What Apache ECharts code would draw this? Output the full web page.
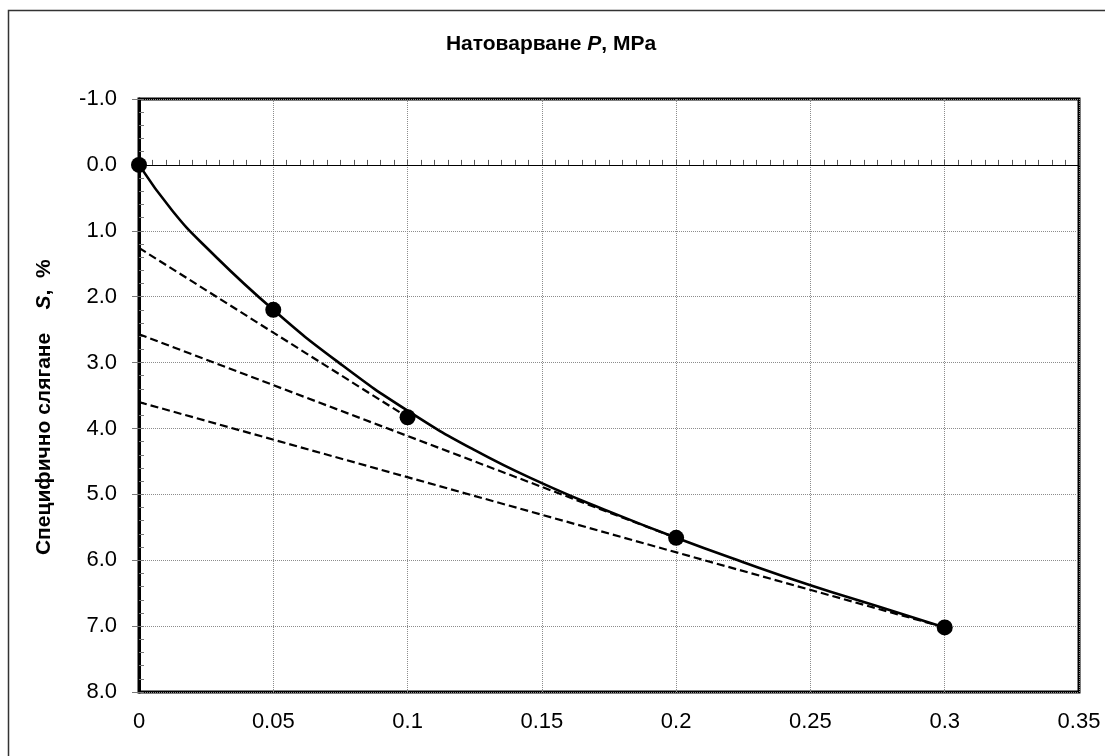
<!DOCTYPE html>
<html>
<head>
<meta charset="utf-8">
<script src="https://cdn.jsdelivr.net/npm/echarts@6/dist/echarts.min.js"></script>
<style>html,body{margin:0;padding:0;background:#fff}#c{width:1105px;height:756px}</style>
</head>
<body>
<div id="c"></div>
<script>
// Measured points
const pointsP = [0, 0.05, 0.1, 0.2, 0.3];
const pointsS = [0, 2.2, 3.83, 5.66, 7.02];
// Fitted curve
const curveP = [0, 0.0125, 0.025, 0.05, 0.075, 0.1, 0.125, 0.15, 0.175, 0.2, 0.225, 0.25, 0.275, 0.3];
const curveS = [0, 0.7, 1.25, 2.2, 3.02, 3.73, 4.33, 4.83, 5.26, 5.66, 6.03, 6.38, 6.7, 7.02];
// Dashed secant lines
const dashA = [[0, 1.26], [0.1, 3.83]];
const dashB = [[0, 2.57], [0.2, 5.66]];
const dashC = [[0, 3.6], [0.3, 7.02]];
// Axis ranges
const xMin = 0, xMax = 0.35, xStep = 0.05;
const yMin = -1, yMax = 8, yStep = 1;

const FONT = '"Liberation Sans", Arial, sans-serif';
const chart = echarts.init(document.getElementById('c'));
const grid = '#8c8c8c';

chart.setOption({
  animation: false,
  backgroundColor: '#fff',
  graphic: [{
    type: 'rect', shape: {x: 8.5, y: 10.5, width: 1200, height: 800},
    style: {fill: 'none', stroke: '#333', lineWidth: 1.5}, silent: true, z: -10
  }],
  title: {
    text: '{a|Натоварване }{b|P}{a|, MPa}',
    left: 546, top: 29, textAlign: 'center',
    textStyle: {
      rich: {
        a: {fontFamily: FONT, fontWeight: 'bold', fontSize: 21, color: '#000'},
        b: {fontFamily: FONT, fontWeight: 'bold', fontStyle: 'italic', fontSize: 21, color: '#000'}
      }
    }
  },
  grid: {left: 139, top: 99, right: 26, bottom: 64, show: true, borderColor: '#000', borderWidth: 3, backgroundColor: 'transparent'},
  xAxis: [{
    type: 'value', min: xMin, max: xMax, interval: xStep, position: 'bottom',
    axisLine: {show: false, onZero: false},
    axisTick: {show: false},
    axisLabel: {fontFamily: FONT, fontSize: 22, color: '#000', margin: 19},
    splitLine: {show: true, lineStyle: {color: grid, type: [1, 1], width: 1}}
  }, {
    type: 'value', min: xMin, max: xMax, interval: 0.005, position: 'top',
    axisLine: {show: true, onZero: true, lineStyle: {color: '#000', width: 1}},
    axisTick: {show: true, length: 5, lineStyle: {color: '#555', width: 1}},
    axisLabel: {show: false},
    splitLine: {show: false}
  }],
  yAxis: [{
    type: 'value', inverse: true, min: yMin, max: yMax, interval: yStep, position: 'left',
    axisLine: {show: true, onZero: false, lineStyle: {color: '#000', width: 3}},
    axisTick: {show: true, length: 7, lineStyle: {color: '#777', width: 1}},
    axisLabel: {fontFamily: FONT, fontSize: 22, color: '#000', margin: 22, formatter: v => v.toFixed(1)},
    splitLine: {show: true, lineStyle: {color: grid, type: [1, 1], width: 1}},
    name: '{a|Специфично слягане    }{b|S}{a|,  %    }',
    nameLocation: 'middle', nameRotate: 90, nameGap: 84,
    nameTextStyle: {
      rich: {
        a: {fontFamily: FONT, fontWeight: 'bold', fontSize: 21, color: '#000'},
        b: {fontFamily: FONT, fontWeight: 'bold', fontStyle: 'italic', fontSize: 21, color: '#000'}
      }
    }
  }, {
    type: 'value', inverse: true, min: yMin, max: yMax, interval: 0.2, position: 'left',
    axisLine: {show: false, onZero: false},
    axisTick: {show: true, inside: true, length: 5, lineStyle: {color: '#777', width: 1}},
    axisLabel: {show: false},
    splitLine: {show: false}
  }],
  series: [
    {type: 'line', smooth: 0.5, symbol: 'none', data: curveP.map((p, i) => [p, curveS[i]]),
     lineStyle: {color: '#000', width: 2.6}, z: 3},
    {type: 'line', symbol: 'none', data: dashA, lineStyle: {color: '#000', width: 2.2, type: [8, 4]}, z: 2},
    {type: 'line', symbol: 'none', data: dashB, lineStyle: {color: '#000', width: 2.2, type: [8, 4]}, z: 2},
    {type: 'line', symbol: 'none', data: dashC, lineStyle: {color: '#000', width: 2.2, type: [8, 4]}, z: 2},
    {type: 'scatter', symbol: 'circle', symbolSize: 16, data: pointsP.map((p, i) => [p, pointsS[i]]),
     itemStyle: {color: '#000', opacity: 1}, z: 5}
  ]
});
</script>
</body>
</html>
